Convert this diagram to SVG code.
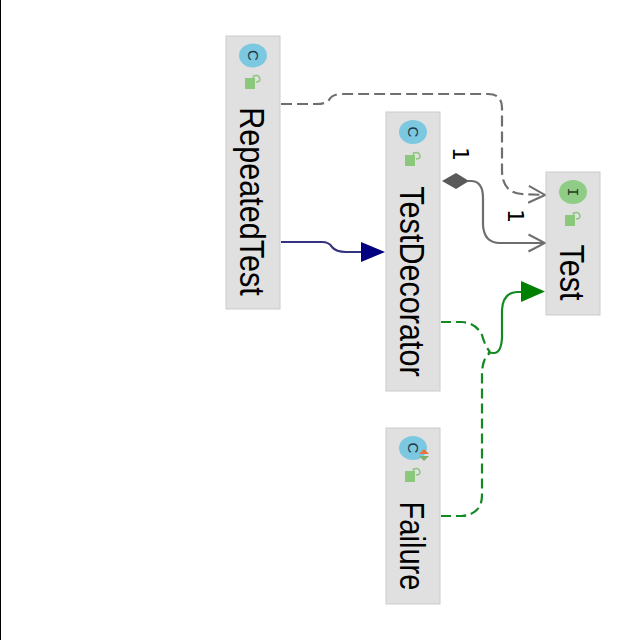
<svg xmlns="http://www.w3.org/2000/svg" width="640" height="640" viewBox="0 0 640 640">
<style>
.box{fill:#e0e0e0;stroke:#cccccc;stroke-width:1}
.name{font-family:"Liberation Sans",Arial,sans-serif;font-size:35px;fill:#000;text-anchor:middle}
.mult{font-family:"DejaVu Sans",sans-serif;font-size:22px;fill:#000;text-anchor:middle}
.glyph{font-family:"Liberation Sans",sans-serif;font-size:15px;fill:#1c3a4a;text-anchor:middle}
.glyph-i{font-family:"Liberation Mono",monospace;font-size:15px;fill:#1f3a1f;text-anchor:middle}
.lock{fill:#8cc87c}
.shackle{fill:none;stroke:#8cc87c;stroke-width:1.5}
.c{fill:#7cc8e0}
.edge{fill:none;stroke-width:2.2}
.gray{stroke:#6e6e6e}
.green{stroke:#118a22}
</style>
<defs>
<marker id="open" markerUnits="userSpaceOnUse" markerWidth="20" markerHeight="20" refX="18" refY="10" orient="auto"><path d="M1.500 1.500 L18 10 L1.500 18.500" fill="none" stroke="#6e6e6e" stroke-width="2"/></marker>
</defs>
<rect width="640" height="640" fill="#ffffff"/>
<rect x="0" y="0" width="1" height="640" fill="#000000"/>

<g id="connectors">
<path class="edge gray" stroke-dasharray="11 5" d="M281 104 L316 104 Q326 104 329 100 Q332 94 342 94 L488 94 Q502 94 502 108 L502 170 Q502 193 522 194 L545 195" marker-end="url(#open)"/>
<path class="edge gray" d="M468 181 L472 181 Q483 182 483 198 L483 225 Q484 243 500 243 L545 243" marker-end="url(#open)"/>
<polygon points="442,181 456,173 469,181 456,189" fill="#595959"/>
<path class="edge" stroke="#33337f" d="M281 242 L322 242 Q329 242 332 247 Q336 252 346 252 L362 252"/>
<polygon points="361,242 385,252 361,262" fill="#000080"/>
<path class="edge green" stroke-dasharray="10 5" d="M441 322 L462 322 Q476 323 482 335 Q485 346 490 352"/>
<path class="edge green" stroke-dasharray="10 5" d="M441 516 L462 516 Q482 514 482 495 L482 375 Q482 358 490 353"/>
<path class="edge green" d="M488 352 Q490 353 494 353 Q501 353 502 338 L502 310 Q503 292 518 292 L522 292"/>
<polygon points="521,281 545,291.500 521,302" fill="#008000"/>
<text class="mult" transform="translate(453,154) rotate(90)">1</text>
<text class="mult" transform="translate(508,216) rotate(90)">1</text>
</g>

<g id="RepeatedTest">
<rect class="box" x="226" y="36" width="54" height="273"/>
<ellipse class="c" cx="253" cy="55.500" rx="14" ry="12"/>
<text class="glyph" transform="translate(247.500,55.500) rotate(90)">C</text>
<rect class="lock" x="245" y="78" width="10" height="11"/>
<path class="shackle" d="M253.500 78 V76 Q259 74 260 79 Q260 82 256 82"/>
<text class="name" transform="translate(240,201.500) rotate(90) scale(.874,1)">RepeatedTest</text>
</g>

<g id="TestDecorator">
<rect class="box" x="386" y="112" width="54" height="279"/>
<ellipse class="c" cx="413" cy="132" rx="14" ry="12"/>
<text class="glyph" transform="translate(407.500,132) rotate(90)">C</text>
<rect class="lock" x="405" y="155" width="10" height="11"/>
<path class="shackle" d="M413.500 155 V153 Q419 151 420 156 Q420 159 416 159"/>
<text class="name" transform="translate(400,281.500) rotate(90) scale(.874,1)">TestDecorator</text>
</g>

<g id="Failure">
<rect class="box" x="386" y="428" width="54" height="176"/>
<ellipse class="c" cx="413" cy="448" rx="14" ry="12"/>
<text class="glyph" transform="translate(407.500,448) rotate(90)">C</text>
<polygon points="419,454 424,449 429,454" fill="#e8743b"/>
<polygon points="419,456 424,461 429,456" fill="#7fb069"/>
<rect class="lock" x="405" y="471" width="10" height="11"/>
<path class="shackle" d="M413.500 471 V469 Q419 467 420 472 Q420 475 416 475"/>
<text class="name" transform="translate(400,546) rotate(90) scale(.83,1)">Failure</text>
</g>

<g id="Test">
<rect class="box" x="546" y="172" width="54" height="143"/>
<ellipse cx="573" cy="192" rx="14" ry="12" fill="#8fcc85"/>
<text class="glyph-i" transform="translate(567.500,192) rotate(90)">I</text>
<rect class="lock" x="565" y="215" width="10" height="11"/>
<path class="shackle" d="M573.500 215 V213 Q579 211 580 216 Q580 219 576 219"/>
<text class="name" transform="translate(560,272.500) rotate(90) scale(.874,1)">Test</text>
</g>
</svg>
